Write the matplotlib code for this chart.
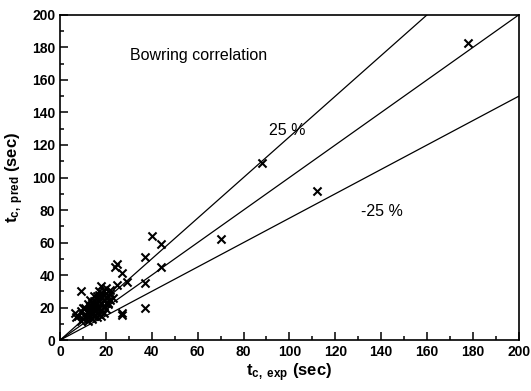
import numpy as np
import matplotlib.pyplot as plt

plt.rcParams['font.family'] = ['Liberation Sans', 'DejaVu Sans']
plt.rcParams['mathtext.fontset'] = 'custom'
plt.rcParams['mathtext.rm'] = 'Liberation Sans:bold'
plt.rcParams['mathtext.it'] = 'Liberation Sans:bold'
plt.rcParams['mathtext.default'] = 'rm'

# measured vs predicted times (sec)
t_exp = [178, 88, 112, 70, 40, 44, 44, 37, 37, 37, 25, 24, 27, 29, 27, 25, 22,
         9, 6.5, 27,
         8, 9, 10, 11, 12, 12, 13, 13, 14, 14, 15, 15, 16, 16, 17, 17, 18, 18,
         19, 19, 20, 20, 21, 22, 10, 11, 12, 14, 15, 16, 17, 18, 19, 13, 15,
         17, 20, 21, 11, 14, 16, 18, 19, 12, 23, 17, 7, 9,
         13, 15, 16, 18, 20, 22, 14, 17, 19, 21, 12, 16]
t_pred = [183, 109, 92, 62, 64, 59, 45, 51, 35, 20, 47, 45, 41, 36, 15.5, 34, 31,
          30, 17, 16.5,
          15, 18, 20, 16, 14, 22, 18, 25, 16, 21, 19, 24, 17, 27, 20, 30, 22, 33,
          25, 28, 19, 26, 23, 29, 13, 14, 17, 13, 15, 20, 16, 18, 21, 19, 22,
          24, 32, 22, 20, 18, 14, 15, 17, 12, 26, 28, 14, 12,
          21, 27, 23, 27, 23, 25, 23, 25, 30, 27, 18, 19]

line_x = [0, 200]
factors = [1.0, 1.25, 0.75]

fig = plt.figure(figsize=(5.31, 3.91), dpi=100)
ax = fig.add_axes([0.113, 0.130, 0.864, 0.832])

for f in factors:
    ax.plot(line_x, [f * v for v in line_x], color='black', lw=0.9)

ax.scatter(t_exp, t_pred, marker='x', color='black', s=34, linewidths=1.5, zorder=3)

ax.set_xlim(0, 200)
ax.set_ylim(0, 200)
ax.set_xticks(np.arange(0, 201, 20))
ax.set_yticks(np.arange(0, 201, 20))
ax.set_xticks(np.arange(0, 201, 10), minor=True)
ax.set_yticks(np.arange(0, 201, 10), minor=True)
ax.tick_params(which='both', direction='in', top=False, right=False,
               labelsize=10, width=1.1)
ax.tick_params(which='major', length=6)
ax.tick_params(which='minor', length=3)
for lab in ax.get_xticklabels() + ax.get_yticklabels():
    lab.set_fontweight('bold')
for s in ax.spines.values():
    s.set_linewidth(1.2)

ax.set_xlabel(r'$t_{c,\ exp}$ (sec)', fontsize=12, fontweight='bold', labelpad=2)
ax.set_ylabel(r'$t_{c,\ pred}$ (sec)', fontsize=12, fontweight='bold', labelpad=4)

ax.text(30.5, 175, 'Bowring correlation', fontsize=11.5, va='center')
ax.text(91, 129, '25 %', fontsize=11.5, va='center')
ax.text(131, 79, '-25 %', fontsize=11.5, va='center')

fig.savefig('out.png', dpi=100)
